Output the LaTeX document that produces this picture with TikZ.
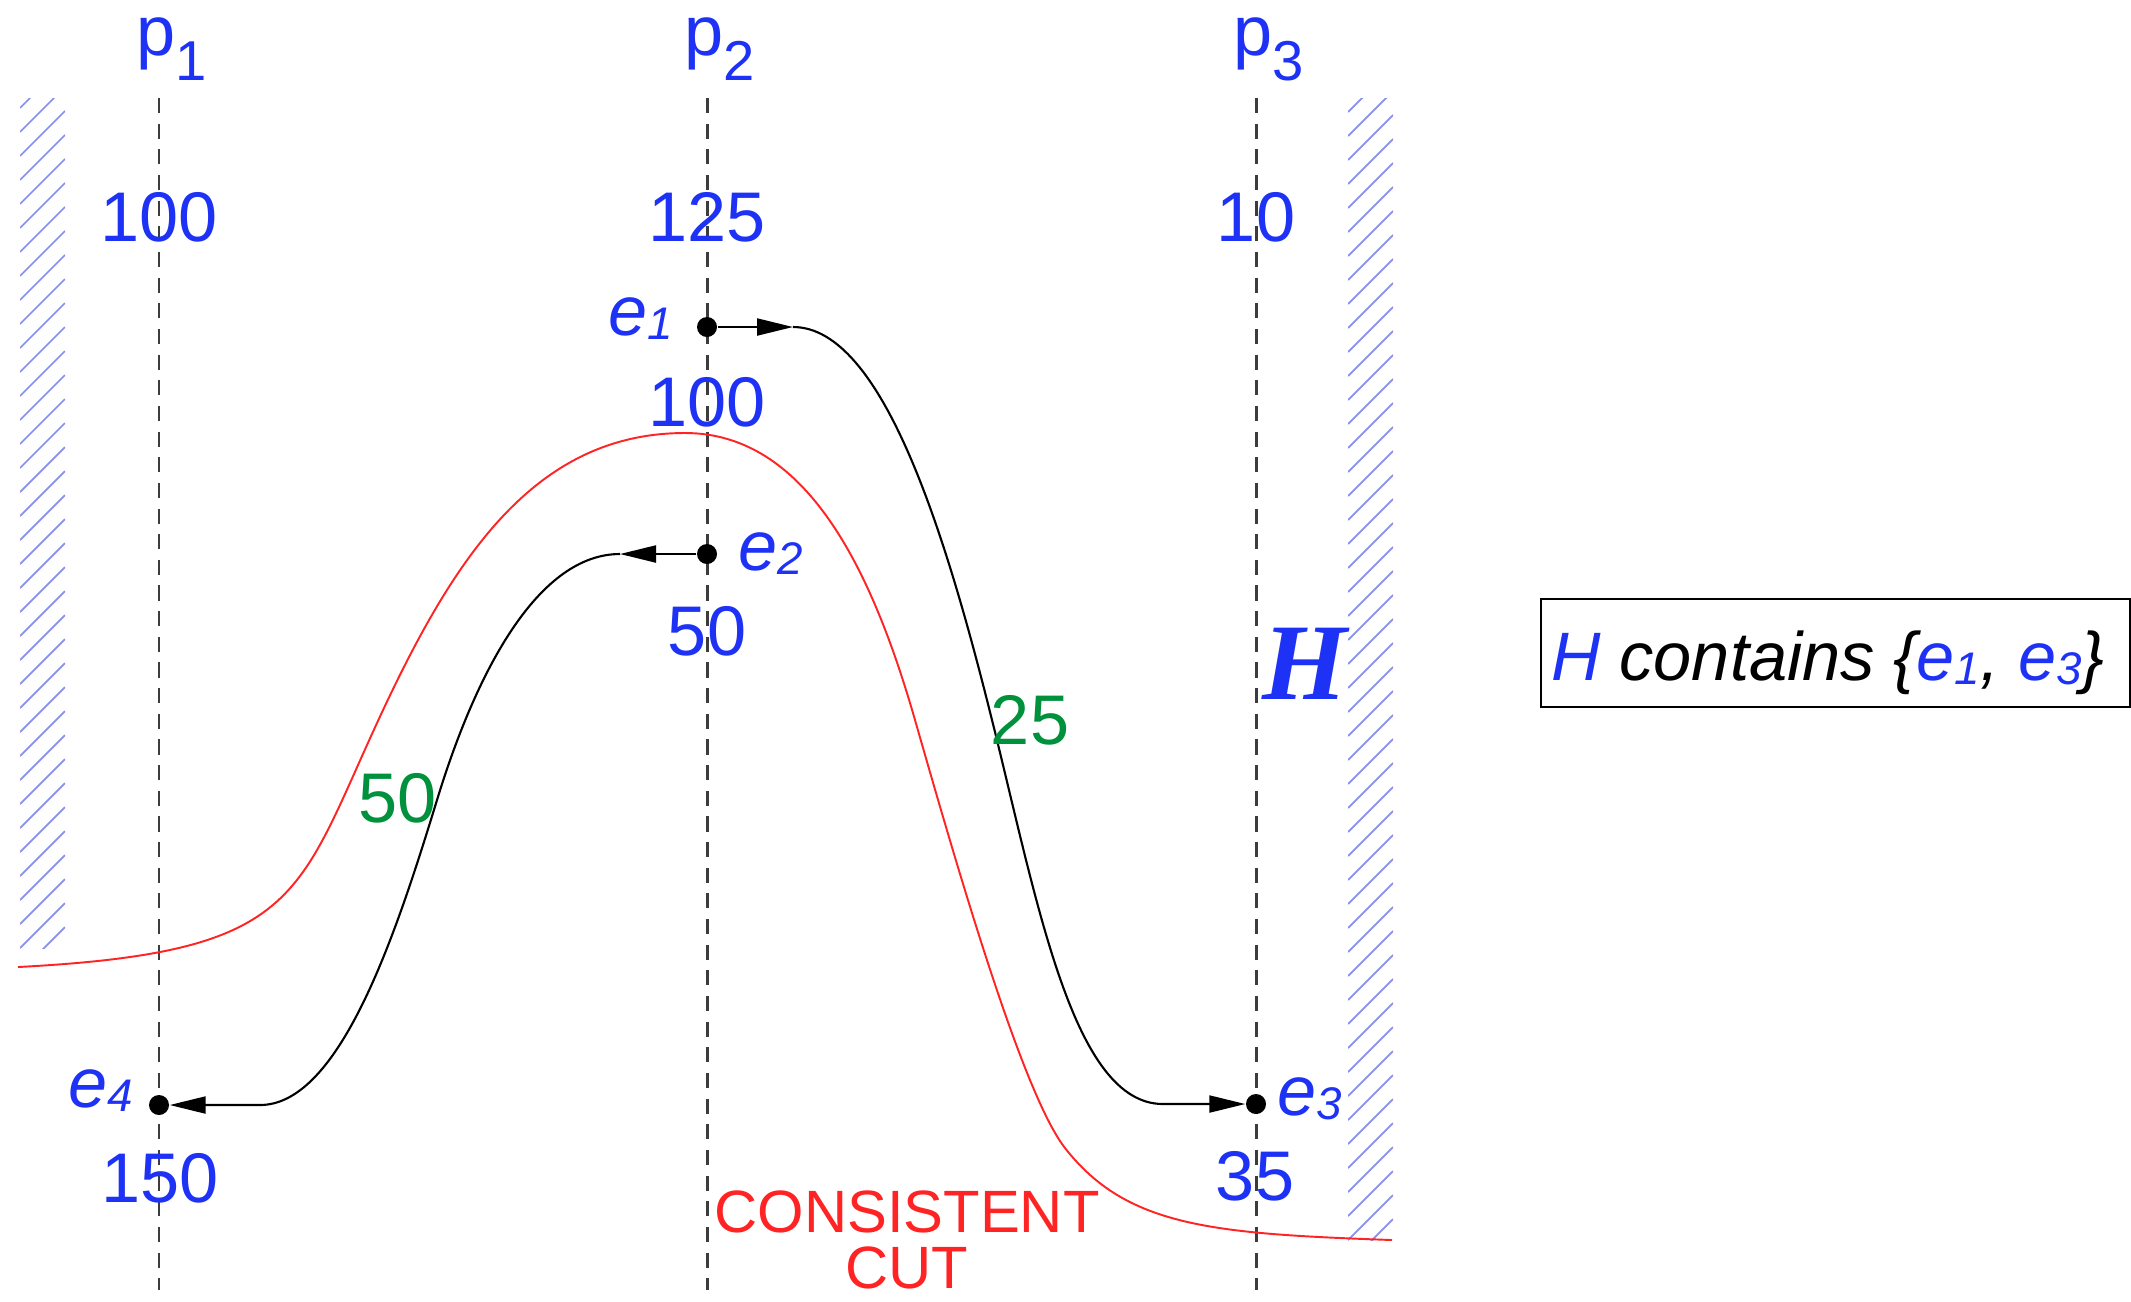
\documentclass[tikz,border=0pt]{standalone}
\usepackage{fontspec}
\setmainfont{Liberation Sans}
\newfontfamily\serifit{Liberation Serif}
\usetikzlibrary{arrows.meta}

\definecolor{evblue}{RGB}{30,50,245}
\definecolor{hatchblue}{RGB}{135,145,235}
\definecolor{cutred}{RGB}{255,35,35}
\definecolor{wgreen}{RGB}{0,145,60}
\definecolor{linegray}{RGB}{60,60,60}

\newcommand{\evt}[1]{\textit{e}\raisebox{-0.04cm}{\fontsize{13}{13}\selectfont\itshape #1}}
\newcommand{\proc}[1]{p\raisebox{-0.25cm}{\fontsize{16}{16}\selectfont #1}}

\begin{document}
\begin{tikzpicture}[>={Triangle[length=3.6mm,width=1.7mm]},
    procline/.style={linegray, line width=0.85pt, dash pattern=on 4.3pt off 3pt},
    hatch/.style={hatchblue, line width=0.5pt},
    cutline/.style={cutred, line width=0.55pt},
    msg/.style={->, black, line width=0.6pt},
    event/.style={circle, fill=black, inner sep=0pt, minimum size=2mm},
    lbl/.style={text=evblue, font=\fontsize{20}{24}\selectfont, inner sep=0pt},
    wlbl/.style={text=wgreen, font=\fontsize{20}{24}\selectfont, inner sep=0pt},
    infobox/.style={draw, line width=0.6pt, font=\fontsize{19.5}{24}\selectfont\itshape,
        inner xsep=0.1cm, inner ysep=0pt,
        text height=0.8cm, text depth=0.26cm, minimum height=1.08cm}]

    % process positions
    \def\PA{1.59}
    \def\PB{7.07}
    \def\PC{12.56}

    \useasboundingbox (0,0) rectangle (21.31,-13.01);

    % hatched walls
    \begin{scope}
        \clip (0.20,-9.48) rectangle (0.65,-0.98);
        \foreach \y in {-9.72,-9.48,...,-0.74}
            \draw[hatch] (0.20,\y) -- ++(0.45,0.45);
    \end{scope}
    \begin{scope}
        \clip (13.48,-12.40) rectangle (13.93,-0.98);
        \foreach \y in {-12.64,-12.40,...,-0.74}
            \draw[hatch] (13.48,\y) -- ++(0.45,0.45);
    \end{scope}

    % process lines
    \foreach \px in {\PA,\PB,\PC}
        \draw[procline] (\px,-0.98) -- (\px,-12.90);

    % process names
    \node[lbl, anchor=base] (p1) at (\PA+0.13,-0.55) {\proc{1}};
    \node[lbl, anchor=base] (p2) at (\PB+0.13,-0.55) {\proc{2}};
    \node[lbl, anchor=base] (p3) at (\PC+0.13,-0.55) {\proc{3}};

    % clock values
    \node[lbl] (c1) at (\PA,-2.17) {100};
    \node[lbl] (c2) at (\PB,-2.17) {125};
    \node[lbl] (c3) at (\PC,-2.17) {10};
    \node[lbl] (v1) at (\PB,-4.02) {100};
    \node[lbl] (v2) at (\PB,-6.31) {50};
    \node[lbl] (v4) at (\PA+0.01,-11.78) {150};
    \node[lbl] (v3) at (\PC-0.01,-11.76) {35};

    % consistent cut
    \draw[cutline] (0.18,-9.67)
        to[out=3, in=244, out distance=3cm, in distance=2.3cm] (3.95,-6.85)
        to[out=64, in=180, out distance=1.6cm, in distance=1.4cm] (6.85,-4.33)
        to[out=0, in=106, out distance=1.2cm, in distance=1.6cm] (9.15,-7.20)
        to[out=-74, in=128, out distance=1.5cm, in distance=0.7cm] (10.65,-11.48)
        to[out=-52, in=178, out distance=1cm, in distance=1.8cm] (13.92,-12.40);
    \node[text=cutred, font=\fontsize{17}{16}\selectfont, align=center,
        inner sep=0pt] (cut) at (9.07,-12.40) {CONSISTENT\\CUT};

    % events
    \node[event] (e1) at (\PB,-3.27) {};
    \node[event] (e2) at (\PB,-5.54) {};
    \node[event] (e3) at (\PC,-11.04) {};
    \node[event] (e4) at (\PA,-11.05) {};
    \node[lbl, anchor=base east] (l1) at (6.74,-3.35) {\evt{1}};
    \node[lbl, anchor=base west] (l2) at (7.38,-5.70) {\evt{2}};
    \node[lbl, anchor=base west] (l3) at (12.77,-11.15) {\evt{3}};
    \node[lbl, anchor=base east] (l4) at (1.34,-11.07) {\evt{4}};

    % messages
    \coordinate (m1s) at (7.93,-3.27);
    \coordinate (m1m) at (9.92,-7.20);
    \coordinate (m1e) at (11.63,-11.04);
    \coordinate (m2s) at (6.20,-5.54);
    \coordinate (m2m) at (4.37,-8.00);
    \coordinate (m2e) at (2.60,-11.05);

    \draw[msg] (e1) -- (m1s);
    \draw[msg] (m1s) to[out=0, in=104, out distance=0.9cm, in distance=1.9cm] (m1m)
        to[out=-76, in=180, out distance=1.9cm, in distance=0.9cm] (m1e) -- (e3);
    \draw[msg] (e2) -- (m2s);
    \draw[msg] (m2s) to[out=180, in=73, out distance=0.8cm, in distance=1.4cm] (m2m)
        to[out=253, in=0, out distance=1.4cm, in distance=0.8cm] (m2e) -- (e4);

    % message weights
    \node[wlbl] (w1) at (10.30,-7.20) {25};
    \node[wlbl] (w2) at (3.98,-7.98) {50};

    % snapshot H
    \node[text=evblue, font=\serifit\fontsize{31}{31}\selectfont\bfseries\itshape,
        inner sep=0pt] (hname) at (13.05,-6.64) {H};
    \node[infobox, anchor=west] (hbox) at (15.40,-6.53)
        {\makebox[5.69cm][l]{\textcolor{evblue}{H} contains \{\textcolor{evblue}{\evt{1}}, \textcolor{evblue}{\evt{3}}\}}};

\end{tikzpicture}
\end{document}
